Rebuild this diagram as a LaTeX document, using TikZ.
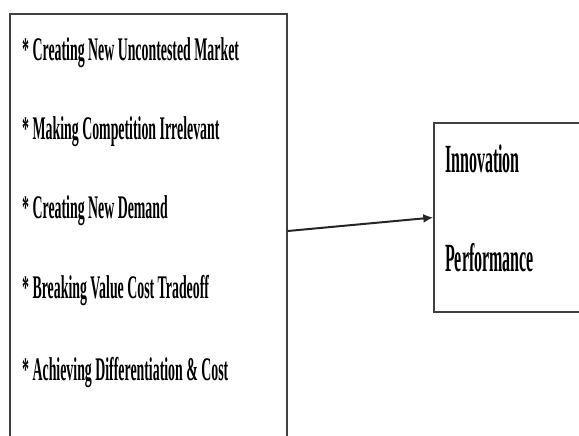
\documentclass[tikz,border=0pt]{standalone}
\usepackage{fontspec}
\setmainfont{Liberation Serif}
\usetikzlibrary{arrows.meta}
\newcommand{\cnd}[2]{\scalebox{#1}[1]{\bfseries #2}}
\begin{document}
\begin{tikzpicture}[x=1pt,y=-1pt]
\useasboundingbox (0,0) rectangle (579,436);
\tikzset{
  box/.style={draw=black!75, line width=1.4pt, inner sep=0},
  item/.style={anchor=west, inner sep=0, font=\fontsize{33}{33}\selectfont},
  outcome/.style={anchor=west, inner sep=0, font=\fontsize{40}{40}\selectfont}
}
\node[box, minimum width=277pt, minimum height=434pt] (left) at (148.5,231) {};
\node[box, minimum width=156pt, minimum height=189pt] (right) at (512,217.5) {};
\draw[-{Latex[length=10pt,width=9pt]}, line width=2pt, black!85] (left.east) -- (right.west);
\node[item] (i1) at (22,53) {\cnd{0.42}{* Creating New Uncontested Market}};
\node[item] (i2) at (22,132) {\cnd{0.42}{* Making Competition Irrelevant}};
\node[item] (i3) at (22,211) {\cnd{0.42}{* Creating New Demand}};
\node[item] (i4) at (22,291) {\cnd{0.42}{* Breaking Value Cost Tradeoff}};
\node[item] (i5) at (22,373) {\cnd{0.42}{* Achieving Differentiation \& Cost}};
\node[outcome] (o1) at (445,159) {\cnd{0.4}{Innovation}};
\node[outcome] (o2) at (445,258) {\cnd{0.4}{Performance}};
\end{tikzpicture}
\end{document}
